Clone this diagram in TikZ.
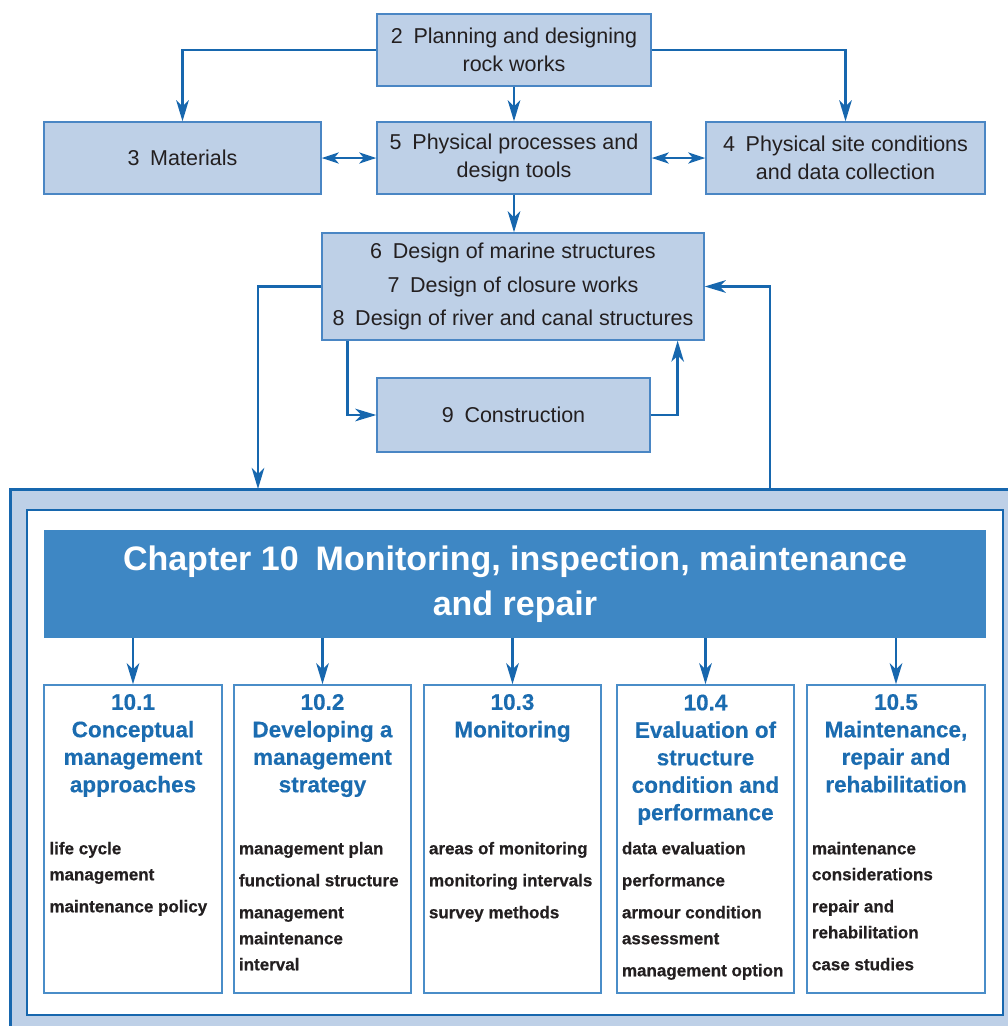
\documentclass[tikz,border=0pt]{standalone}
\usepackage{fontspec}
\setmainfont{Liberation Sans}
\newfontfamily\hvy[FakeBold=0.5]{Liberation Sans Bold}
\newfontfamily\hvt[FakeBold=0.35]{Liberation Sans Bold}
\usetikzlibrary{arrows.meta,calc}
\definecolor{boxfill}{HTML}{BED0E7}
\definecolor{boxline}{HTML}{4A86C4}
\definecolor{conncol}{HTML}{1767AE}
\definecolor{headcol}{HTML}{3E87C4}
\definecolor{ttlcol}{HTML}{1B6CB0}
\definecolor{bodycol}{HTML}{231F20}
\definecolor{subline}{HTML}{4A8DC8}
\newcommand{\gp}{\hspace{0.5em}}
\begin{document}
\begin{tikzpicture}[x=1pt,y=-1pt,
  topbox/.style={draw=boxline, fill=boxfill, line width=1.3pt, inner sep=0pt,
    align=center, text=bodycol, font=\fontsize{21.5}{28}\selectfont},
  arr/.style={draw=conncol, line width=2.8pt,
    -{Stealth[length=21pt,width=12.5pt,inset=6pt]}},
  dbl/.style={draw=conncol, line width=2.8pt,
    {Stealth[length=17pt,width=11pt,inset=4.5pt]}-{Stealth[length=17pt,width=11pt,inset=4.5pt]}},
  subbox/.style={draw=subline, line width=1.5pt, fill=white, inner sep=0pt,
    minimum height=308pt},
  ttl/.style={anchor=base, align=center, text=ttlcol, inner sep=0pt,
    font=\fontsize{22.5}{27.5}\hvt},
  bodytxt/.style={anchor=base west, align=left, text=bodycol, inner sep=0pt,
    font=\fontsize{17}{26}\hvy}
]
\useasboundingbox (0,0) rectangle (1008,1026);

% outer frame
\draw[line width=3pt, draw=conncol, fill=boxfill] (10,489) rectangle (1030,1045);
\draw[line width=2.5pt, draw=conncol, fill=white] (27,510) rectangle (1003,1015);

% top boxes
\node[topbox, minimum width=274pt, minimum height=72pt] (b2) at (514,50) {2\gp Planning and designing\\rock works};
\node[topbox, minimum width=277pt, minimum height=72pt] (b3) at (182.5,158) {3\gp Materials};
\node[topbox, minimum width=274pt, minimum height=72pt] (b5) at (514,158) {5\gp Physical processes and\\design tools};
\node[topbox, minimum width=279pt, minimum height=72pt] (b4) at (845.5,158) {4\gp Physical site conditions\\and data collection};
\node[topbox, minimum width=382pt, minimum height=107pt,
  font=\fontsize{21.5}{33.5}\selectfont] (b6) at (513,286.5)
  {6\gp Design of marine structures\\7\gp Design of closure works\\8\gp Design of river and canal structures};
\node[topbox, minimum width=273pt, minimum height=74pt] (b9) at (513.5,415) {9\gp Construction};

% connectors
\draw[arr] (b2.west) -| (b3.north);
\draw[arr] (b2.east) -| (b4.north);
\draw[arr] (b2.south) -- (b5.north);
\draw[dbl] (b3.east) -- (b5.west);
\draw[dbl] (b5.east) -- (b4.west);
\draw[arr] (b5.south) -- (b5.south |- b6.north);
\coordinate (fl) at (258,489);
\coordinate (fr) at (770,489);
\draw[arr] (b6.west) -| (fl);
\draw[arr] (fr) |- (b6.east);
\coordinate (d1) at ($(b6.south west)+(26,0)$);
\coordinate (u1) at ($(b6.south east)+(-27,0)$);
\draw[arr] (d1) |- (b9.west);
\draw[arr] (b9.east) -| (u1);

% header
\node[fill=headcol, minimum width=942pt, minimum height=108pt, inner sep=0pt,
  text=white, align=center, font=\fontsize{34}{45}\selectfont\bfseries] (hdr) at (515,584)
  {Chapter 10\gp Monitoring, inspection, maintenance\\and repair};

% sub boxes
\node[subbox, minimum width=178pt] (s1) at (133,839) {};
\node[subbox, minimum width=177pt] (s2) at (322.5,839) {};
\node[subbox, minimum width=177pt] (s3) at (512.5,839) {};
\node[subbox, minimum width=177pt] (s4) at (705.5,839) {};
\node[subbox, minimum width=178pt] (s5) at (896,839) {};

\foreach \s in {s1,s2,s3,s4,s5}{
  \draw[arr] (\s.north |- hdr.south) -- (\s.north);
}

% titles (anchor = baseline of last line)
\node[ttl] (t1) at ($(s1.north)+(0,108)$) {10.1\\Conceptual\\management\\approaches};
\node[ttl] (t2) at ($(s2.north)+(0,108)$) {10.2\\Developing a\\management\\strategy};
\node[ttl] (t3) at ($(s3.north)+(0,53)$) {10.3\\Monitoring};
\node[ttl] (t4) at ($(s4.north)+(0,136)$) {10.4\\Evaluation of\\structure\\condition and\\performance};
\node[ttl] (t5) at ($(s5.north)+(0,108)$) {10.5\\Maintenance,\\repair and\\rehabilitation};

% body lists (anchor = baseline of last line)
\node[bodytxt] (x1) at ($(s1.north west)+(6,228)$) {life cycle\\management\\[6pt]maintenance policy};
\node[bodytxt] (x2) at ($(s2.north west)+(5.5,286)$) {management plan\\[6pt]functional structure\\[6pt]management\\maintenance\\interval};
\node[bodytxt] (x3) at ($(s3.north west)+(5.5,234)$) {areas of monitoring\\[6pt]monitoring intervals\\[6pt]survey methods};
\node[bodytxt] (x4) at ($(s4.north west)+(5.5,292)$) {data evaluation\\[6pt]performance\\[6pt]armour condition\\assessment\\[6pt]management option};
\node[bodytxt] (x5) at ($(s5.north west)+(5.5,286)$) {maintenance\\considerations\\[6pt]repair and\\rehabilitation\\[6pt]case studies};
\end{tikzpicture}
\end{document}
